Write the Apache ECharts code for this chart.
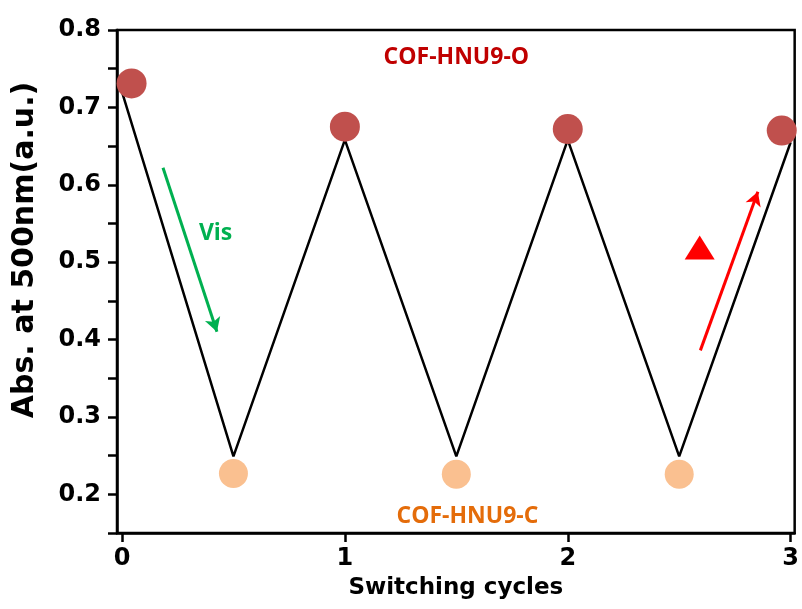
<!DOCTYPE html>
<html>
<head>
<meta charset="utf-8">
<script src="https://cdn.jsdelivr.net/npm/echarts@6/dist/echarts.min.js"></script>
<style>
  html, body { margin: 0; padding: 0; background: #fff; }
  #chart { width: 802px; height: 609px; }
</style>
</head>
<body>
<div id="chart"></div>
<script>
// switching trace (black zig-zag)
const lineX = [0, 0.5, 1, 1.5, 2, 2.5, 3];
const lineY = [0.72, 0.249, 0.658, 0.249, 0.658, 0.249, 0.655];

// open form points (dark red circles)
const openX = [0.043, 1, 2, 2.96];
const openY = [0.731, 0.675, 0.672, 0.670];

// closed form points (peach circles)
const closedX = [0.5, 1.5, 2.5];
const closedY = [0.227, 0.226, 0.226];

// axis ticks
const xTicks = [0, 1, 2, 3];
const yLabels = [0.2, 0.3, 0.4, 0.5, 0.6, 0.7, 0.8];
const yTicks = [0.15, 0.2, 0.25, 0.3, 0.35, 0.4, 0.45, 0.5, 0.55, 0.6, 0.65, 0.7, 0.75, 0.8];

// annotations
const noteText = ['COF-HNU9-O', 'COF-HNU9-C', 'Vis'];
const noteX = [1.5, 1.55, 0.42];
const noteY = [0.765, 0.172, 0.537];
const noteColor = ['#C00000', '#E46C0A', '#00B050'];

// arrows [x0, y0, x1, y1]
const visArrow = [0.184, 0.622, 0.426, 0.410];
const heatArrow = [2.595, 0.386, 2.853, 0.591];
const triangleX = [2.592];
const triangleY = [0.519];

const zip = (xs, ys) => xs.map((x, i) => [x, ys[i]]);

const chart = echarts.init(document.getElementById('chart'));

const axisFont = { fontFamily: 'DejaVu Sans', fontWeight: 'bold', color: '#000' };

const option = {
  animation: false,
  backgroundColor: '#fff',
  grid: {
    left: 117, right: 7, top: 30, bottom: 76,
    show: true, borderColor: '#000', borderWidth: 2.5
  },
  xAxis: {
    type: 'value',
    min: -0.0224,
    max: 3.018,
    splitLine: { show: false },
    axisLine: { show: true, lineStyle: { color: '#000', width: 2.5 } },
    axisTick: { show: true, inside: false, length: 9, lineStyle: { color: '#000', width: 2.5 }, customValues: xTicks },
    axisLabel: { ...axisFont, fontSize: 24, margin: 14, customValues: xTicks, formatter: v => String(Math.round(v)) },
    name: 'Switching cycles',
    nameLocation: 'middle',
    nameGap: 44,
    nameTextStyle: { ...axisFont, fontSize: 23 }
  },
  yAxis: {
    type: 'value',
    min: 0.15,
    max: 0.8,
    splitLine: { show: false },
    axisLine: { show: true, onZero: false, lineStyle: { color: '#000', width: 2.5 } },
    axisTick: { show: true, inside: false, length: 9, lineStyle: { color: '#000', width: 2.5 }, customValues: yTicks },
    axisLabel: { ...axisFont, fontSize: 24, margin: 16, customValues: yLabels, formatter: v => v.toFixed(1) }
  },
  graphic: [{
    type: 'text',
    x: 25,
    y: 250,
    rotation: Math.PI / 2,
    style: {
      text: 'Abs. at 500nm(a.u.)',
      fontFamily: 'DejaVu Sans',
      fontWeight: 'bold',
      fontSize: 30,
      fill: '#000',
      align: 'center',
      verticalAlign: 'middle'
    }
  }],
  series: [
    {
      type: 'line',
      data: zip(lineX, lineY),
      symbol: 'none',
      lineStyle: { color: '#000', width: 2.5 },
      z: 2
    },
    {
      type: 'scatter',
      data: zip(openX, openY),
      symbolSize: 30,
      itemStyle: { color: '#C0504D', opacity: 1 },
      clip: false,
      z: 3
    },
    {
      type: 'scatter',
      data: zip(closedX, closedY),
      symbolSize: 29,
      itemStyle: { color: '#FAC090', opacity: 1 },
      clip: false,
      z: 3
    },
    {
      type: 'scatter',
      data: zip(triangleX, triangleY),
      symbol: 'triangle',
      symbolSize: [30, 24],
      itemStyle: { color: '#FF0000', opacity: 1 },
      z: 3
    },
    {
      type: 'line',
      data: [],
      markLine: {
        silent: true,
        symbol: ['none', 'arrow'],
        symbolSize: [12, 14],
        label: { show: false },
        data: [
          [
            { coord: [visArrow[0], visArrow[1]], lineStyle: { color: '#00B050', width: 3, type: 'solid', opacity: 1 } },
            { coord: [visArrow[2], visArrow[3]] }
          ],
          [
            { coord: [heatArrow[0], heatArrow[1]], lineStyle: { color: '#FF0000', width: 3, type: 'solid', opacity: 1 } },
            { coord: [heatArrow[2], heatArrow[3]] }
          ]
        ]
      }
    },
    {
      type: 'scatter',
      symbolSize: 1,
      itemStyle: { color: 'rgba(0,0,0,0)', opacity: 1 },
      data: noteText.map((t, i) => ({
        value: [noteX[i], noteY[i]],
        label: {
          show: true,
          position: 'inside',
          formatter: t,
          color: noteColor[i],
          opacity: 1,
          fontFamily: 'Open Sans',
          fontWeight: 'bold',
          fontSize: 23
        }
      })),
      z: 4
    }
  ]
};

chart.setOption(option);
</script>
</body>
</html>
